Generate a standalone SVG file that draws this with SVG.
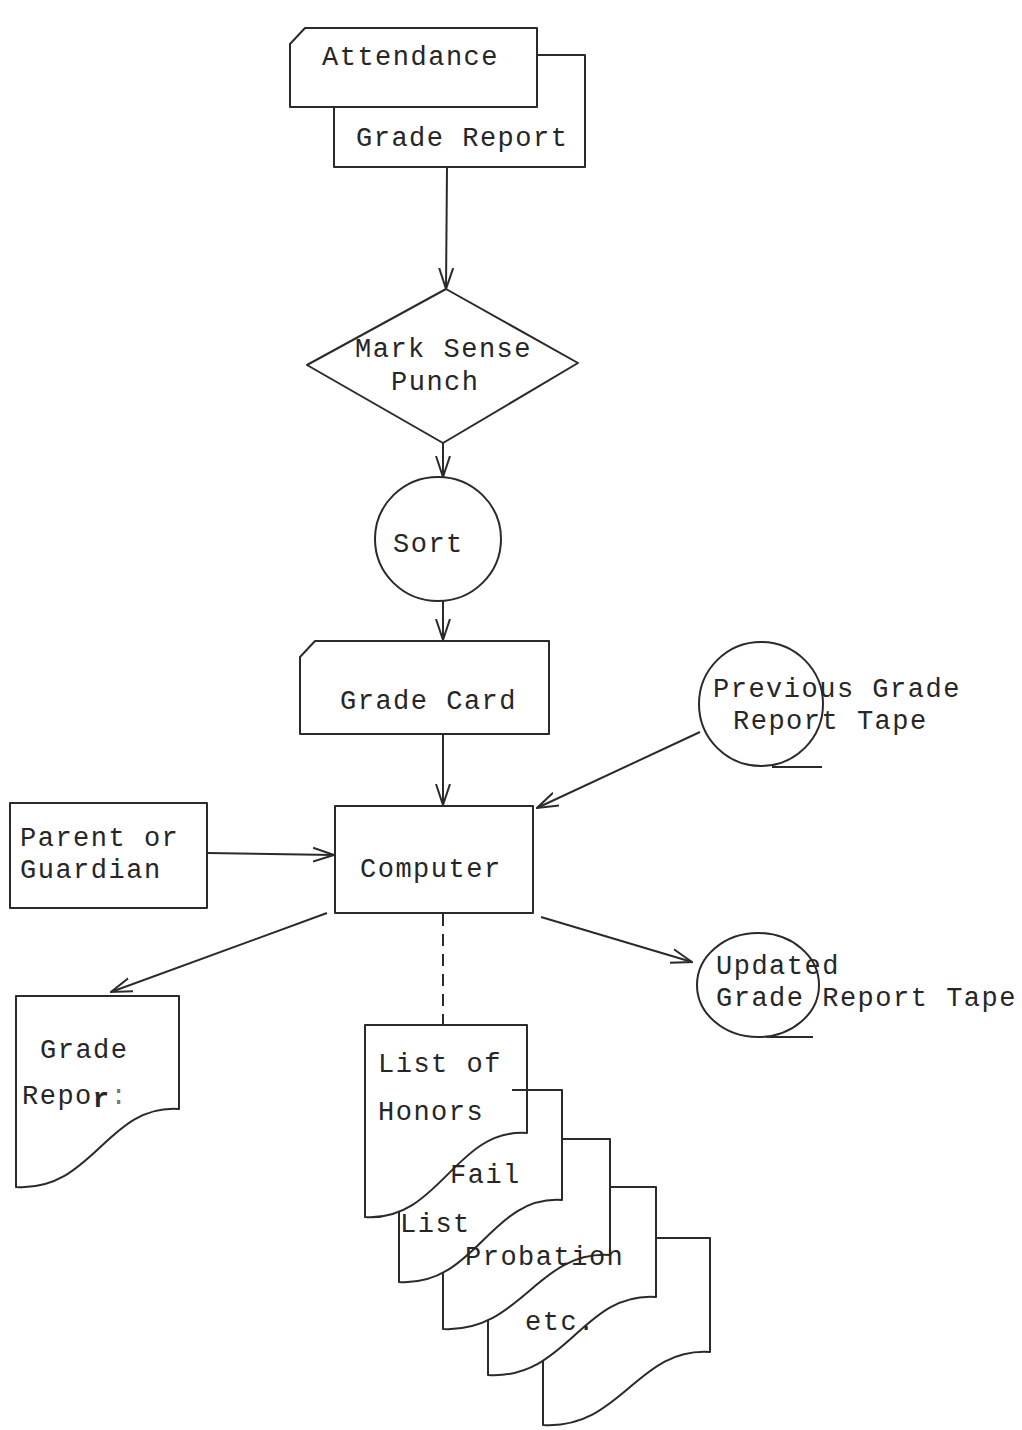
<svg xmlns="http://www.w3.org/2000/svg" width="1022" height="1430" viewBox="0 0 1022 1430">
  <style>
    .shape { fill: #ffffff; stroke: #2a2a2a; stroke-width: 2; stroke-linejoin: round; }
    .line { fill: none; stroke: #2a2a2a; stroke-width: 2; }
    .dash { fill: none; stroke: #2a2a2a; stroke-width: 2; stroke-dasharray: 12 8; }
    .lbl { font-family: "Liberation Mono", "DejaVu Sans Mono", monospace; font-size: 27px; letter-spacing: 1.5px; fill: #262626; }
  </style>
  <defs>
    <marker id="arrow" viewBox="0 0 22 20" refX="21" refY="10" markerWidth="22" markerHeight="20" markerUnits="userSpaceOnUse" orient="auto">
      <path d="M0,3 L21,10 L0,17" fill="none" stroke="#2a2a2a" stroke-width="2"/>
    </marker>
  </defs>
  <rect width="1022" height="1430" fill="#ffffff"/>

  <!-- input cards -->
  <g id="grade-report-card">
    <rect class="shape" x="334" y="55" width="251" height="112"/>
    <text class="lbl" x="356" y="146">Grade Report</text>
  </g>
  <g id="attendance-card">
    <path class="shape" d="M305,28 L537,28 L537,107 L290,107 L290,44 Z"/>
    <text class="lbl" x="322" y="65">Attendance</text>
  </g>

  <g id="mark-sense-punch">
    <path class="shape" d="M446,289 L578,363 L443,443 L307,365 Z"/>
    <text class="lbl" x="355" y="357">Mark Sense</text>
    <text class="lbl" x="391" y="390">Punch</text>
  </g>

  <g id="sort">
    <ellipse class="shape" cx="438" cy="539" rx="63" ry="62"/>
    <text class="lbl" x="393" y="552">Sort</text>
  </g>

  <g id="grade-card">
    <path class="shape" d="M315,641 L549,641 L549,734 L300,734 L300,657 Z"/>
    <text class="lbl" x="340" y="709">Grade Card</text>
  </g>

  <g id="previous-tape">
    <ellipse class="shape" cx="761" cy="704" rx="62" ry="62" fill="none"/>
    <line class="line" x1="772" y1="767" x2="822" y2="767"/>
    <text class="lbl" x="713" y="697">Previous Grade</text>
    <text class="lbl" x="733" y="729">Report Tape</text>
  </g>

  <g id="parent-guardian">
    <rect class="shape" x="10" y="803" width="197" height="105"/>
    <text class="lbl" x="20" y="846">Parent or</text>
    <text class="lbl" x="20" y="878">Guardian</text>
  </g>

  <g id="computer">
    <rect class="shape" x="335" y="806" width="198" height="107"/>
    <text class="lbl" x="360" y="877">Computer</text>
  </g>

  <g id="updated-tape">
    <ellipse class="shape" cx="758" cy="985" rx="61" ry="52"/>
    <line class="line" x1="766" y1="1037" x2="813" y2="1037"/>
    <text class="lbl" x="716" y="974">Updated</text>
    <text class="lbl" x="716" y="1006">Grade Report Tape</text>
  </g>

  <g id="grade-report-doc">
    <path class="shape" d="M16,996 L179,996 L179,1109 C107,1104 93,1192 16,1187 Z"/>
    <text class="lbl" x="40" y="1058">Grade</text>
    <text class="lbl" x="22" y="1104">Repo<tspan font-weight="bold" dy="3">r</tspan><tspan dy="-3" fill="#777">:</tspan></text>
  </g>

  <!-- stacked output lists, back to front -->
  <g id="output-lists">
    <path class="shape" d="M543,1238 L710,1238 L710,1352 C637,1347 621,1430 543,1425 Z"/>
    <path class="shape" d="M488,1187 L656,1187 L656,1297 C582,1292 567,1380 488,1375 Z"/>
    <path class="shape" d="M443,1139 L610,1139 L610,1255 C537,1250 521,1333 443,1329 Z"/>
    <path class="shape" d="M399,1090 L562,1090 L562,1200 C490,1195 476,1287 399,1282 Z"/>
    <path class="shape" d="M365,1025 L527,1025 L527,1133 C455,1128 440,1222 365,1217 Z"/>
    <line class="line" x1="512" y1="1090" x2="527" y2="1090"/>
    <text class="lbl" x="378" y="1072">List of</text>
    <text class="lbl" x="378" y="1120">Honors</text>
    <text class="lbl" x="450" y="1183">Fail</text>
    <text class="lbl" x="400" y="1232">List</text>
    <text class="lbl" x="465" y="1265">Probation</text>
    <text class="lbl" x="525" y="1330">etc.</text>
  </g>

  <g id="connectors">
    <line class="line" x1="447" y1="168" x2="446" y2="289" marker-end="url(#arrow)"/>
    <line class="line" x1="443" y1="443" x2="443" y2="477" marker-end="url(#arrow)"/>
    <line class="line" x1="443" y1="601" x2="443" y2="640" marker-end="url(#arrow)"/>
    <line class="line" x1="443" y1="735" x2="443" y2="805" marker-end="url(#arrow)"/>
    <line class="line" x1="700" y1="732" x2="537" y2="808" marker-end="url(#arrow)"/>
    <line class="line" x1="207" y1="853" x2="334" y2="855" marker-end="url(#arrow)"/>
    <line class="line" x1="327" y1="913" x2="111" y2="992" marker-end="url(#arrow)"/>
    <line class="line" x1="541" y1="917" x2="692" y2="962" marker-end="url(#arrow)"/>
    <line class="dash" x1="443" y1="914" x2="443" y2="1025"/>
  </g>
</svg>
